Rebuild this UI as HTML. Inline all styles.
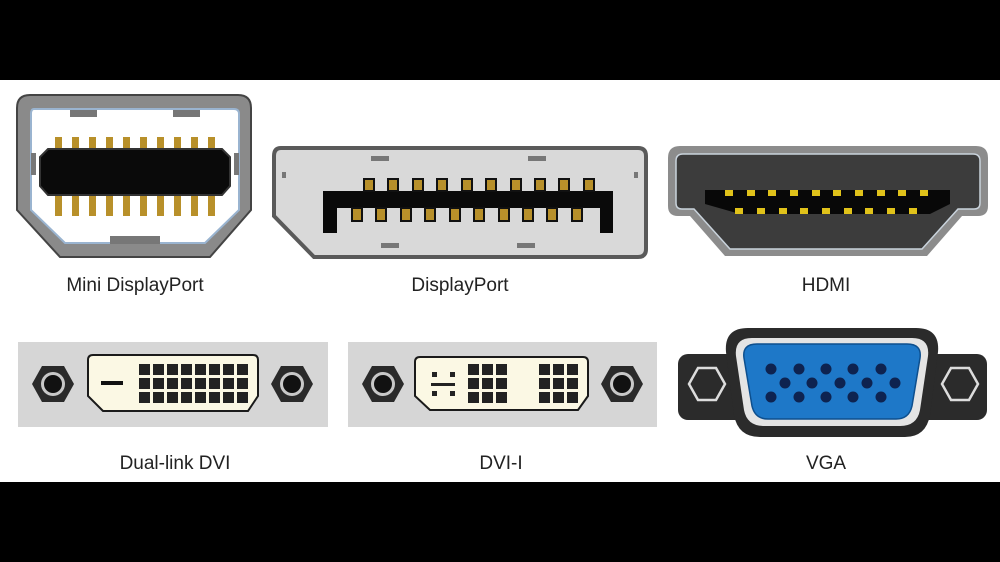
<!DOCTYPE html>
<html><head><meta charset="utf-8"><style>
html,body{margin:0;padding:0;background:#fff;}
svg{display:block;}
text{font-family:"Liberation Sans","DejaVu Sans",sans-serif;font-size:19px;fill:#222;text-anchor:middle;}
</style></head><body>
<svg width="1000" height="562" viewBox="0 0 1000 562" xmlns="http://www.w3.org/2000/svg">
<rect x="0" y="0" width="1000" height="80" fill="#000"/>
<rect x="0" y="482" width="1000" height="80" fill="#000"/>

<!-- Mini DisplayPort -->
<path d="M30,95 H238 Q251,95 251,108 V210 L210,257 H60 L17,210 V108 Q17,95 30,95Z" fill="#8a8a8a" stroke="#444" stroke-width="2"/>
<path d="M34,109 H234 Q239,109 239,114 V210 L205,243 H65 L31,210 V114 Q31,109 34,109Z" fill="#fff" stroke="#9ab4d0" stroke-width="2"/>
<rect x="70" y="110" width="27" height="7" fill="#777"/>
<rect x="173" y="110" width="27" height="7" fill="#777"/>
<rect x="110" y="236" width="50" height="8" fill="#777"/>
<rect x="31" y="153" width="5" height="22" fill="#777"/>
<rect x="234" y="153" width="5" height="22" fill="#777"/>
<g fill="#b8902a">
<rect x="55" y="137" width="7" height="18"/><rect x="72" y="137" width="7" height="18"/><rect x="89" y="137" width="7" height="18"/><rect x="106" y="137" width="7" height="18"/><rect x="123" y="137" width="7" height="18"/><rect x="140" y="137" width="7" height="18"/><rect x="157" y="137" width="7" height="18"/><rect x="174" y="137" width="7" height="18"/><rect x="191" y="137" width="7" height="18"/><rect x="208" y="137" width="7" height="18"/>
<rect x="55" y="196" width="7" height="20"/><rect x="72" y="196" width="7" height="20"/><rect x="89" y="196" width="7" height="20"/><rect x="106" y="196" width="7" height="20"/><rect x="123" y="196" width="7" height="20"/><rect x="140" y="196" width="7" height="20"/><rect x="157" y="196" width="7" height="20"/><rect x="174" y="196" width="7" height="20"/><rect x="191" y="196" width="7" height="20"/><rect x="208" y="196" width="7" height="20"/>
</g>
<path d="M48,149 H222 L230,157 V186 L222,195 H48 L40,186 V157Z" fill="#0a0a0a" stroke="#333" stroke-width="2"/>
<text x="135" y="291">Mini DisplayPort</text>

<!-- DisplayPort -->
<path d="M281,148 H638 Q646,148 646,156 V249 Q646,257 638,257 H314 L274,216 V156 Q274,148 281,148Z" fill="#d9d9d9" stroke="#5a5a5a" stroke-width="4"/>
<rect x="371" y="156" width="18" height="5" fill="#777"/><rect x="528" y="156" width="18" height="5" fill="#777"/>
<rect x="381" y="243" width="18" height="5" fill="#777"/><rect x="517" y="243" width="18" height="5" fill="#777"/>
<rect x="282" y="172" width="4" height="6" fill="#777"/><rect x="634" y="172" width="4" height="6" fill="#777"/>
<path d="M323,191 H613 V233 H600 V208 H337 V233 H323Z" fill="#0a0a0a"/>
<g fill="#b8902a" stroke="#111" stroke-width="2">
<rect x="364" y="179" width="10" height="12"/><rect x="388" y="179" width="10" height="12"/><rect x="413" y="179" width="10" height="12"/><rect x="437" y="179" width="10" height="12"/><rect x="462" y="179" width="10" height="12"/><rect x="486" y="179" width="10" height="12"/><rect x="511" y="179" width="10" height="12"/><rect x="535" y="179" width="10" height="12"/><rect x="559" y="179" width="10" height="12"/><rect x="584" y="179" width="10" height="12"/>
<rect x="352" y="208" width="10" height="13"/><rect x="376" y="208" width="10" height="13"/><rect x="401" y="208" width="10" height="13"/><rect x="425" y="208" width="10" height="13"/><rect x="450" y="208" width="10" height="13"/><rect x="474" y="208" width="10" height="13"/><rect x="499" y="208" width="10" height="13"/><rect x="523" y="208" width="10" height="13"/><rect x="547" y="208" width="10" height="13"/><rect x="572" y="208" width="10" height="13"/>
</g>
<text x="460" y="291">DisplayPort</text>

<!-- HDMI -->
<path d="M680,146 H976 Q988,146 988,158 V206 Q988,216 978,216 H962 L927,256 H725 L690,216 H678 Q668,216 668,206 V158 Q668,146 680,146Z" fill="#8c8c8c"/>
<path d="M683,154 H973 Q980,154 980,161 V203 Q980,209 974,209 H958 L922,249 H730 L694,209 H682 Q676,209 676,203 V161 Q676,154 683,154Z" fill="#3c3c3c" stroke="#c9d3dc" stroke-width="1.5"/>
<path d="M705,190 H950 V204 L930,214 H740 L705,204Z" fill="#080808"/>
<g fill="#e0c21a">
<rect x="725" y="190" width="8" height="6"/><rect x="747" y="190" width="8" height="6"/><rect x="768" y="190" width="8" height="6"/><rect x="790" y="190" width="8" height="6"/><rect x="812" y="190" width="8" height="6"/><rect x="833" y="190" width="8" height="6"/><rect x="855" y="190" width="8" height="6"/><rect x="877" y="190" width="8" height="6"/><rect x="898" y="190" width="8" height="6"/><rect x="920" y="190" width="8" height="6"/>
<rect x="735" y="208" width="8" height="6"/><rect x="757" y="208" width="8" height="6"/><rect x="779" y="208" width="8" height="6"/><rect x="800" y="208" width="8" height="6"/><rect x="822" y="208" width="8" height="6"/><rect x="844" y="208" width="8" height="6"/><rect x="865" y="208" width="8" height="6"/><rect x="887" y="208" width="8" height="6"/><rect x="909" y="208" width="8" height="6"/>
</g>
<text x="826" y="291">HDMI</text>

<!-- Dual-link DVI -->
<rect x="18" y="342" width="310" height="85" fill="#d6d6d6"/>
<g>
<polygon points="32,384 42,366 64,366 74,384 64,402 42,402" fill="#2a2a2a"/>
<circle cx="53" cy="384" r="12" fill="#c8c8c8"/><circle cx="53" cy="384" r="9" fill="#111"/>
<polygon points="271,384 281,366 303,366 313,384 303,402 281,402" fill="#2a2a2a"/>
<circle cx="292" cy="384" r="12" fill="#c8c8c8"/><circle cx="292" cy="384" r="9" fill="#111"/>
</g>
<path d="M93,355 H253 Q258,355 258,360 V396 L248,411 H103 L88,396 V360 Q88,355 93,355Z" fill="#fbf8e4" stroke="#1a1a1a" stroke-width="2"/>
<rect x="101" y="381" width="22" height="4" fill="#111"/>
<g fill="#222" id="g8">
<rect x="139" y="364" width="11" height="11"/><rect x="153" y="364" width="11" height="11"/><rect x="167" y="364" width="11" height="11"/><rect x="181" y="364" width="11" height="11"/><rect x="195" y="364" width="11" height="11"/><rect x="209" y="364" width="11" height="11"/><rect x="223" y="364" width="11" height="11"/><rect x="237" y="364" width="11" height="11"/>
<rect x="139" y="378" width="11" height="11"/><rect x="153" y="378" width="11" height="11"/><rect x="167" y="378" width="11" height="11"/><rect x="181" y="378" width="11" height="11"/><rect x="195" y="378" width="11" height="11"/><rect x="209" y="378" width="11" height="11"/><rect x="223" y="378" width="11" height="11"/><rect x="237" y="378" width="11" height="11"/>
<rect x="139" y="392" width="11" height="11"/><rect x="153" y="392" width="11" height="11"/><rect x="167" y="392" width="11" height="11"/><rect x="181" y="392" width="11" height="11"/><rect x="195" y="392" width="11" height="11"/><rect x="209" y="392" width="11" height="11"/><rect x="223" y="392" width="11" height="11"/><rect x="237" y="392" width="11" height="11"/>
</g>
<text x="175" y="469">Dual-link DVI</text>

<!-- DVI-I -->
<rect x="348" y="342" width="309" height="85" fill="#d6d6d6"/>
<polygon points="362,384 372,366 394,366 404,384 394,402 372,402" fill="#2a2a2a"/>
<circle cx="383" cy="384" r="12" fill="#c8c8c8"/><circle cx="383" cy="384" r="9" fill="#111"/>
<polygon points="601,384 611,366 633,366 643,384 633,402 611,402" fill="#2a2a2a"/>
<circle cx="622" cy="384" r="12" fill="#c8c8c8"/><circle cx="622" cy="384" r="9" fill="#111"/>
<path d="M420,357 H583 Q588,357 588,362 V396 L578,410 H430 L415,396 V362 Q415,357 420,357Z" fill="#fbf8e4" stroke="#1a1a1a" stroke-width="2"/>
<g fill="#222">
<rect x="432" y="372" width="5" height="5"/><rect x="450" y="372" width="5" height="5"/>
<rect x="431" y="383" width="24" height="3"/>
<rect x="432" y="391" width="5" height="5"/><rect x="450" y="391" width="5" height="5"/>
<rect x="468" y="364" width="11" height="11"/><rect x="482" y="364" width="11" height="11"/><rect x="496" y="364" width="11" height="11"/>
<rect x="468" y="378" width="11" height="11"/><rect x="482" y="378" width="11" height="11"/><rect x="496" y="378" width="11" height="11"/>
<rect x="468" y="392" width="11" height="11"/><rect x="482" y="392" width="11" height="11"/><rect x="496" y="392" width="11" height="11"/>
<rect x="539" y="364" width="11" height="11"/><rect x="553" y="364" width="11" height="11"/><rect x="567" y="364" width="11" height="11"/>
<rect x="539" y="378" width="11" height="11"/><rect x="553" y="378" width="11" height="11"/><rect x="567" y="378" width="11" height="11"/>
<rect x="539" y="392" width="11" height="11"/><rect x="553" y="392" width="11" height="11"/><rect x="567" y="392" width="11" height="11"/>
</g>
<text x="501" y="469">DVI-I</text>

<!-- VGA -->
<rect x="678" y="354" width="309" height="66" rx="10" fill="#2b2b2b"/>
<path d="M748,328 H916 Q940,328 938,352 L930,415 Q926,437 905,437 H760 Q738,437 734,415 L726,352 Q724,328 748,328Z" fill="#2b2b2b"/>
<path d="M752,338 H912 Q930,338 928,356 L920,410 Q917,426 900,426 H764 Q747,426 744,410 L736,356 Q734,338 752,338Z" fill="#e4e4e4"/>
<path d="M757,344 H907 Q922,344 920,358 L912,406 Q909,419 896,419 H768 Q755,419 752,406 L744,358 Q742,344 757,344Z" fill="#1e78c8" stroke="#0d4f8e" stroke-width="1.5"/>
<g fill="#0e2350">
<circle cx="771" cy="369" r="5.5"/><circle cx="799" cy="369" r="5.5"/><circle cx="826" cy="369" r="5.5"/><circle cx="853" cy="369" r="5.5"/><circle cx="881" cy="369" r="5.5"/>
<circle cx="785" cy="383" r="5.5"/><circle cx="812" cy="383" r="5.5"/><circle cx="840" cy="383" r="5.5"/><circle cx="867" cy="383" r="5.5"/><circle cx="895" cy="383" r="5.5"/>
<circle cx="771" cy="397" r="5.5"/><circle cx="799" cy="397" r="5.5"/><circle cx="826" cy="397" r="5.5"/><circle cx="853" cy="397" r="5.5"/><circle cx="881" cy="397" r="5.5"/>
</g>
<polygon points="689,384 698,368 716,368 725,384 716,400 698,400" fill="#2b2b2b" stroke="#ddd" stroke-width="2.5"/>
<polygon points="942,384 951,368 969,368 978,384 969,400 951,400" fill="#2b2b2b" stroke="#ddd" stroke-width="2.5"/>
<text x="826" y="469">VGA</text>
</svg>
</body></html>
